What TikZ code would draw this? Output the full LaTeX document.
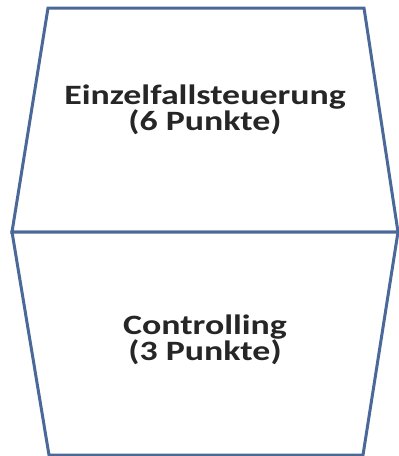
\documentclass[tikz,border=0pt]{standalone}
\usepackage{fontspec}
\setmainfont{Carlito}
\definecolor{edgeblue}{RGB}{74,104,152}
\tikzset{face/.style={draw=edgeblue,line width=3pt,line join=miter,fill=white},
  facetext/.style={align=center,font=\fontsize{28}{25}\selectfont\bfseries,text=black!85,xscale=1.28,transform shape}}
\begin{document}
\begin{tikzpicture}[x=1pt,y=-1pt]
\useasboundingbox (0,0) rectangle (399,456);
\draw[face] (48,8) -- (364,8) -- (398,232) -- (12,232) -- cycle;
\draw[face] (12,232) -- (398,232) -- (363,455) -- (49,455) -- cycle;
\node[facetext] (top) at (205,110) {Einzelfallsteuerung\\(6 Punkte)};
\node[facetext] (bottom) at (205,340) {Controlling\\(3 Punkte)};
\end{tikzpicture}
\end{document}
